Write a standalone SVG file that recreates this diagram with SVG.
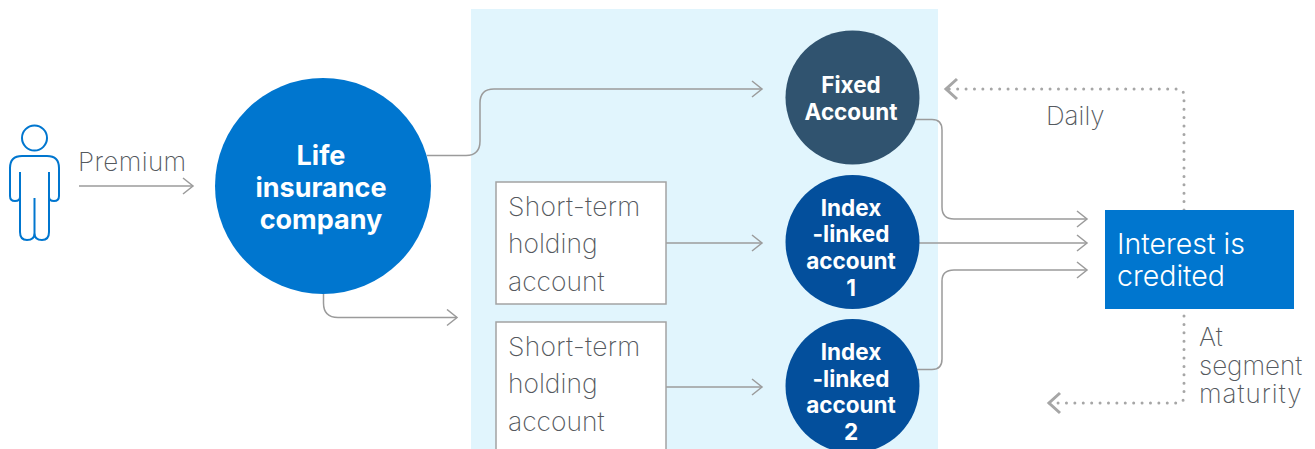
<svg xmlns="http://www.w3.org/2000/svg" width="1315" height="449" viewBox="0 0 1315 449">
<defs>
<marker id="open" markerUnits="userSpaceOnUse" markerWidth="14" markerHeight="18" refX="12" refY="9" orient="auto"><path d="M2 1 L12 9 L2 17" fill="none" stroke="#9b9b9b" stroke-width="1.500"/></marker>
<marker id="openDot" markerUnits="userSpaceOnUse" markerWidth="16" markerHeight="24" refX="14" refY="12" orient="auto"><path d="M2 2 L13 12 L2 22" fill="none" stroke="#a6a6a6" stroke-width="3"/></marker>
</defs>
<style>
text{font-family:"Inter","Lato","Liberation Sans",sans-serif}
.lab{font-size:26px;font-weight:200;fill:#55595e}
.box{font-size:26.400px;font-weight:200;fill:#55595e}
.w{font-weight:700;fill:#fff;text-anchor:middle}
.c{fill:none;stroke:#9b9b9b;stroke-width:1.500}
.a{marker-end:url(#open)}
.d{fill:none;stroke:#a6a6a6;stroke-width:3;stroke-linecap:round;stroke-dasharray:0 8.400;marker-end:url(#openDot)}
.rect{fill:#fff;stroke:#a3a3a3;stroke-width:1.500}
</style>
<rect id="panel" x="471" y="9" width="467" height="440" fill="#e1f5fd"/>
<g id="connectors">
<path class="c a" d="M79 186 H193"/>
<path class="c a" d="M427 155.500 H466 Q480 155.500 480 141 V103 Q480 89 494 89 H762"/>
<path class="c a" d="M323.500 293 V303 Q323.500 317.500 338 317.500 H457"/>
<path class="c a" d="M666 243 H762"/>
<path class="c a" d="M666 387 H762"/>
<path class="c a" d="M916 119.500 H932 Q942 119.500 942 130 V207 Q942 219 954 219 H1087"/>
<path class="c a" d="M919 243 H1087"/>
<path class="c a" d="M916 369.500 H932 Q942 369.500 942 359 V281 Q942 270 954 270 H1087"/>
<path class="d" d="M1184 210 V96 Q1184 89 1177 89 H945"/>
<path class="d" d="M1184 316 V396 Q1184 403 1177 403 H1048"/>
</g>
<g id="person" fill="none" stroke="#0076cf" stroke-width="2">
<circle cx="34.500" cy="138" r="12.500"/>
<path d="M20 172 V232 Q20 240 27 240 Q34.500 240 34.500 233 Q34.500 240 42 240 Q49 240 49 232 V172"/>
<path d="M34.500 198 V233"/>
<path d="M20 197 Q20 201 15 201 Q10 201 10 196 V168 Q10 156 22 156 H47 Q59 156 59 168 V196 Q59 201 54 201 Q49 201 49 197"/>
</g>
<text id="premium-label" class="lab" x="78" y="171" style="letter-spacing:.4px">Premium</text>
<g id="life-insurance-company">
<circle cx="323" cy="186" r="108" fill="#0076cf"/>
<text class="w" font-size="27" x="321" y="165">Life</text>
<text class="w" font-size="27" x="321" y="197">insurance</text>
<text class="w" font-size="27" x="321" y="229">company</text>
</g>
<g id="fixed-account">
<circle cx="852.500" cy="97.500" r="67" fill="#30536f"/>
<text class="w" font-size="22.500" x="851" y="93">Fixed</text>
<text class="w" font-size="22.500" x="851" y="120">Account</text>
</g>
<g id="index-linked-1">
<circle cx="852.500" cy="242" r="67" fill="#034f9c"/>
<text class="w" font-size="22.500" x="851" y="216">Index</text>
<text class="w" font-size="22.500" x="851" y="242">-linked</text>
<text class="w" font-size="22.500" x="851" y="269">account</text>
<text class="w" font-size="22.500" x="851" y="296">1</text>
</g>
<g id="index-linked-2">
<circle cx="852.500" cy="386" r="67" fill="#034f9c"/>
<text class="w" font-size="22.500" x="851" y="360">Index</text>
<text class="w" font-size="22.500" x="851" y="387">-linked</text>
<text class="w" font-size="22.500" x="851" y="413">account</text>
<text class="w" font-size="22.500" x="851" y="440">2</text>
</g>
<g id="holding-1">
<rect class="rect" x="496" y="182" width="170" height="122"/>
<text class="box" x="508" y="215.500" style="letter-spacing:.3px">Short-term</text>
<text class="box" x="508" y="252.500">holding</text>
<text class="box" x="508" y="290.500">account</text>
</g>
<g id="holding-2">
<rect class="rect" x="496" y="322" width="170" height="135"/>
<text class="box" x="508" y="355.500" style="letter-spacing:.3px">Short-term</text>
<text class="box" x="508" y="392.500">holding</text>
<text class="box" x="508" y="430.500">account</text>
</g>
<g id="interest-credited">
<rect x="1105" y="210" width="189" height="99" fill="#0076cf"/>
<text font-size="28.500" font-weight="300" fill="#fff" x="1117" y="254">Interest is</text>
<text font-size="28.500" font-weight="300" fill="#fff" x="1117" y="286">credited</text>
</g>
<text id="daily-label" class="lab" x="1046" y="125">Daily</text>
<g id="maturity-label">
<text class="lab" x="1199" y="346">At</text>
<text class="lab" x="1199" y="375">segment</text>
<text class="lab" x="1199" y="403" style="letter-spacing:1px">maturity</text>
</g>
</svg>
